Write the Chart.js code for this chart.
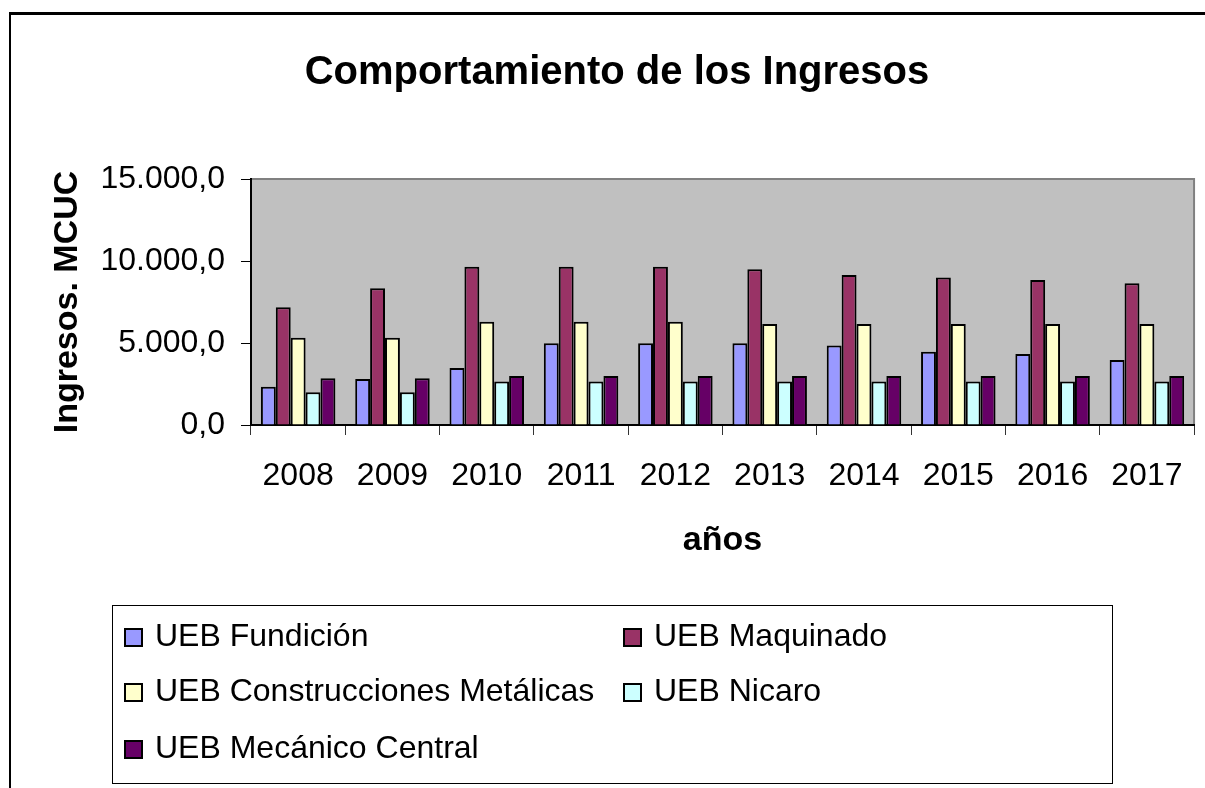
<!DOCTYPE html>
<html>
<head>
<meta charset="utf-8">
<script src="https://cdn.jsdelivr.net/npm/chart.js@4.4.1/dist/chart.umd.min.js"></script>
<style>
  html, body { margin: 0; padding: 0; background: #fff; }
  #wrap { width: 1205px; height: 788px; }
</style>
</head>
<body>
<div id="wrap"><canvas id="chart" width="1205" height="788"></canvas></div>
<script>
// data
const years = ['2008', '2009', '2010', '2011', '2012', '2013', '2014', '2015', '2016', '2017'];
const fundicion = [2330, 2800, 3480, 4980, 4980, 4980, 4840, 4470, 4330, 3960];
const maquinado = [7180, 8340, 9650, 9650, 9650, 9490, 9150, 9000, 8840, 8640];
const construcciones = [5320, 5320, 6300, 6300, 6300, 6160, 6160, 6160, 6160, 6160];
const nicaro = [1990, 1990, 2660, 2660, 2660, 2660, 2660, 2660, 2660, 2660];
const mecanico = [2850, 2850, 2990, 2990, 2990, 2990, 2990, 2990, 2990, 2990];
const yTicks = [0, 5000, 10000, 15000];

const FONT = '"Liberation Sans", Arial, sans-serif';

function fmt(v) {
    // 15000 -> "15.000,0"
    const s = Math.round(v).toString().replace(/\B(?=(\d{3})+(?!\d))/g, '.');
    return s + ',0';
}

function ds(label, data, color) {
    return {
        label: label,
        data: data,
        backgroundColor: color,
        borderColor: '#000',
        borderWidth: 2,
        categoryPercentage: 0.79,
        barPercentage: 1.0
    };
}

// gray plot area, gray top/right edges, outer frame
const plotBg = {
    id: 'plotBg',
    beforeDraw(chart) {
        const { ctx, chartArea: a } = chart;
        ctx.save();
        ctx.fillStyle = '#C0C0C0';
        ctx.fillRect(a.left, a.top, a.right - a.left, a.bottom - a.top);
        ctx.strokeStyle = '#808080';
        ctx.lineWidth = 2;
        ctx.beginPath();
        ctx.moveTo(a.left, a.top);
        ctx.lineTo(a.right, a.top);
        ctx.lineTo(a.right, a.bottom);
        ctx.stroke();
        // outer chart frame (cut at right and bottom)
        ctx.strokeStyle = '#000';
        ctx.lineWidth = 3;
        ctx.beginPath();
        ctx.moveTo(1205, 13.5);
        ctx.lineTo(10, 13.5);
        ctx.stroke();
        ctx.lineWidth = 2;
        ctx.beginPath();
        ctx.moveTo(10, 12);
        ctx.lineTo(10, 788);
        ctx.stroke();
        ctx.restore();
    }
};

// boxed legend in two columns, like the original
const boxLegend = {
    id: 'boxLegend',
    afterDraw(chart) {
        const ctx = chart.ctx;
        const box = { x: 112, y: 605, w: 1000, h: 178 };
        const cols = [125, 624];
        const rows = [646, 701, 758];
        ctx.save();
        ctx.strokeStyle = '#000';
        ctx.lineWidth = 1;
        ctx.strokeRect(box.x + 0.5, box.y + 0.5, box.w, box.h);
        ctx.font = '32px ' + FONT;
        ctx.textBaseline = 'alphabetic';
        ctx.textAlign = 'left';
        chart.data.datasets.forEach((d, i) => {
            const x = cols[i % 2];
            const y = rows[Math.floor(i / 2)];
            ctx.fillStyle = d.backgroundColor;
            ctx.fillRect(x, y - 17, 17, 17);
            ctx.lineWidth = 2;
            ctx.strokeStyle = '#000';
            ctx.strokeRect(x, y - 17, 17, 17);
            ctx.fillStyle = '#000';
            ctx.fillText(d.label, x + 30, y);
        });
        ctx.restore();
    }
};

const ctx = document.getElementById('chart').getContext('2d');
new Chart(ctx, {
    type: 'bar',
    data: {
        labels: years,
        datasets: [
            ds('UEB Fundición', fundicion, '#9999FF'),
            ds('UEB Maquinado', maquinado, '#993366'),
            ds('UEB Construcciones Metálicas', construcciones, '#FFFFCC'),
            ds('UEB Nicaro', nicaro, '#CCFFFF'),
            ds('UEB Mecánico Central', mecanico, '#660066')
        ]
    },
    options: {
        responsive: false,
        animation: false,
        layout: {
            padding: { left: 39, right: 10, top: 0, bottom: 227 }
        },
        plugins: {
            legend: { display: false },
            tooltip: { enabled: false },
            title: {
                display: true,
                text: 'Comportamiento de los Ingresos',
                color: '#000',
                font: { family: FONT, size: 40, weight: 'bold', lineHeight: 1.2 },
                padding: { top: 49, bottom: 82 }
            }
        },
        scales: {
            x: {
                grid: {
                    drawOnChartArea: false,
                    drawTicks: true,
                    tickLength: 10,
                    color: '#333',
                    offset: true
                },
                border: { color: '#000', width: 2 },
                ticks: {
                    color: '#000',
                    padding: 22,
                    maxRotation: 0,
                    font: { family: FONT, size: 32 }
                },
                title: {
                    display: true,
                    text: 'años',
                    color: '#000',
                    font: { family: FONT, size: 34, weight: 'bold', lineHeight: 1.2 },
                    padding: 0
                },
                afterFit(scale) { scale.height = 136; }
            },
            y: {
                min: 0,
                max: 15000,
                afterBuildTicks(scale) {
                    scale.ticks = yTicks.map(v => ({ value: v }));
                },
                grid: {
                    drawOnChartArea: false,
                    drawTicks: true,
                    tickLength: 10,
                    color: '#000'
                },
                border: { color: '#000', width: 2 },
                ticks: {
                    color: '#000',
                    padding: 16,
                    font: { family: FONT, size: 32 },
                    callback: v => fmt(v)
                },
                title: {
                    display: true,
                    text: 'Ingresos. MCUC',
                    color: '#000',
                    font: { family: FONT, size: 34, weight: 'bold', lineHeight: 1.2 },
                    padding: { top: 8, bottom: 0 }
                },
                afterFit(scale) { scale.width = 212; }
            }
        }
    },
    plugins: [plotBg, boxLegend]
});
</script>
</body>
</html>
